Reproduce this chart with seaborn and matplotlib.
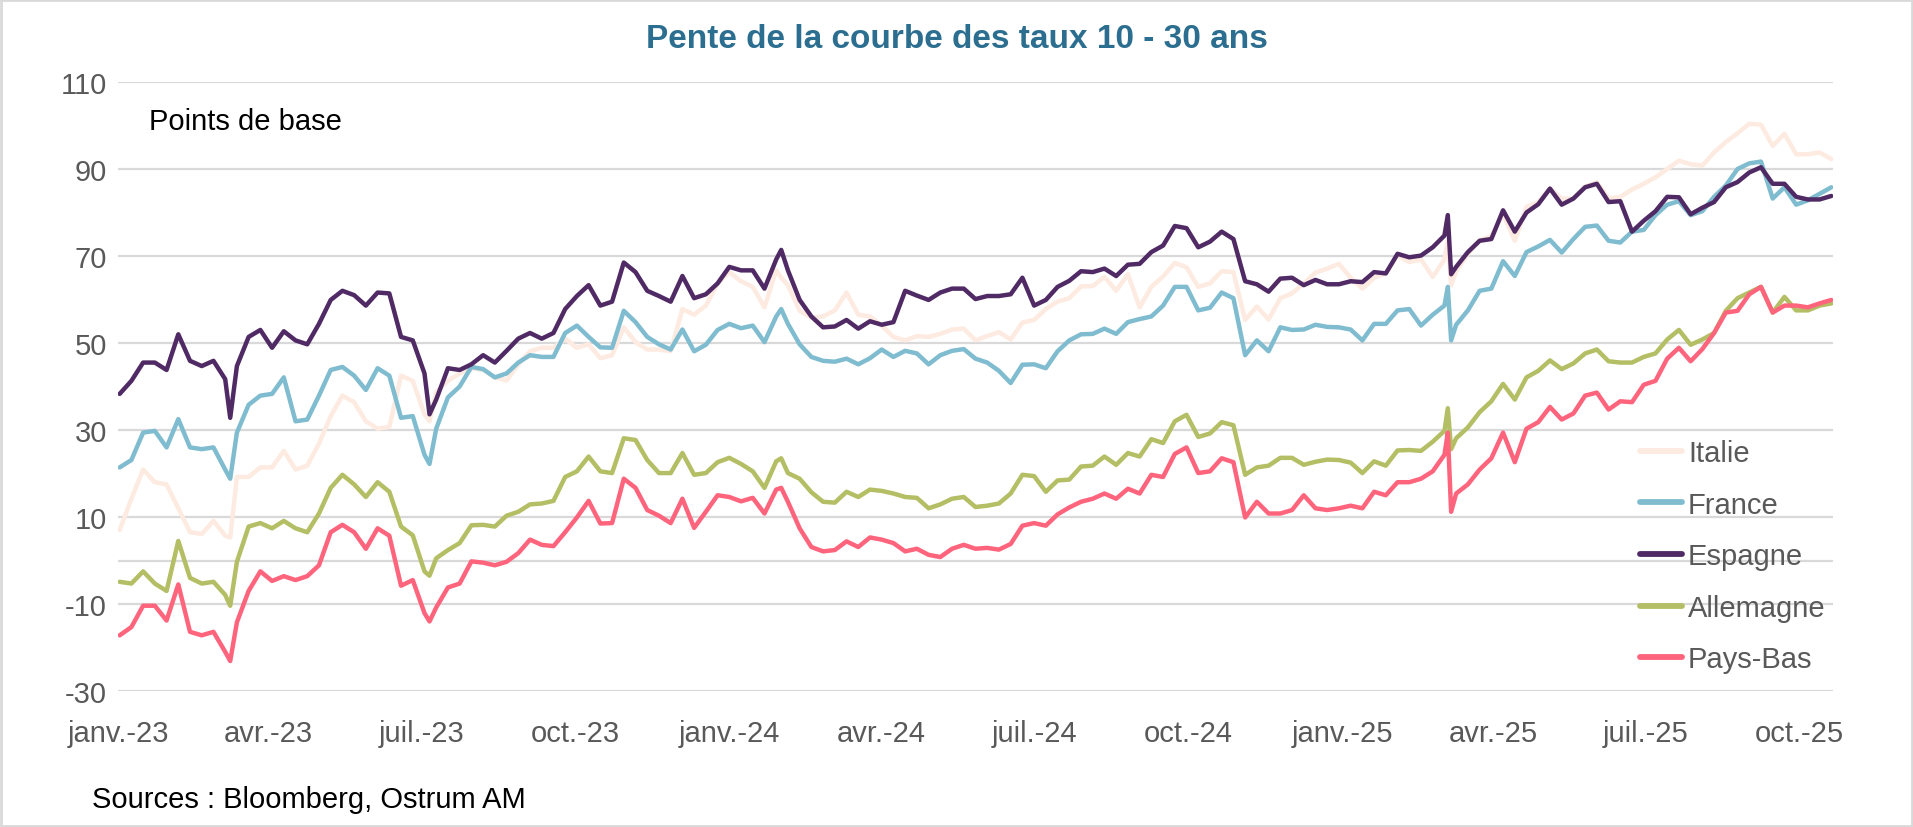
import matplotlib
matplotlib.use("Agg")
import pandas as pd
import matplotlib.pyplot as plt
import seaborn as sns

# Pente 10 - 30 ans (points de base), releve hebdomadaire + quelques jours de choc
weeks = pd.date_range("2023-01-02", periods=147, freq="7D")
extra_dates = pd.to_datetime(["2023-03-09", "2023-07-06", "2024-02-01", "2025-03-05", "2025-03-07"])

italie = [
    7.0, 14.2, 20.9, 18.0, 17.5, 12.0, 6.5, 6.1, 9.1, 5.7,
    19.2, 19.2, 21.4, 21.4, 25.2, 20.9, 21.8, 26.9, 33.2, 37.9,
    36.4, 32.0, 30.3, 30.7, 42.5, 41.3, 33.6, 38.7, 41.3, 43.0,
    44.2, 43.8, 42.1, 41.4, 45.1, 48.1, 48.9, 48.9, 51.0, 48.9,
    49.7, 46.5, 47.2, 53.6, 50.2, 48.5, 48.5, 48.1, 57.8, 56.5,
    58.6, 63.7, 66.3, 64.2, 62.9, 58.2, 66.7, 63.3, 57.4, 55.8,
    56.1, 57.5, 61.6, 56.5, 56.1, 54.0, 51.4, 50.6, 51.6, 51.4,
    52.1, 53.1, 53.3, 50.6, 51.6, 52.5, 50.8, 54.7, 55.3, 57.8,
    59.5, 60.3, 63.0, 63.1, 65.2, 62.0, 65.8, 58.2, 62.9, 65.3,
    68.4, 67.4, 62.9, 63.7, 66.5, 66.3, 55.3, 58.4, 55.4, 60.3,
    61.4, 63.7, 66.2, 67.1, 68.2, 65.0, 62.5, 65.0, 66.0, 70.1,
    68.6, 69.2, 65.2, 69.2, 66.5, 70.5, 73.6, 74.5, 79.6, 73.5,
    81.3, 82.4, 85.5, 83.2, 83.2, 86.0, 86.9, 83.2, 83.6, 85.3,
    86.6, 88.1, 90.0, 91.9, 91.1, 90.8, 93.8, 96.2, 98.2, 100.4,
    100.2, 95.3, 98.1, 93.4, 93.4, 93.8, 92.3,
]
france = [
    21.4, 23.1, 29.4, 29.8, 26.0, 32.5, 26.0, 25.6, 26.0, 20.9,
    29.4, 35.8, 37.9, 38.3, 42.1, 32.0, 32.4, 37.9, 43.8, 44.5,
    42.5, 39.2, 44.2, 42.5, 32.8, 33.2, 24.3, 30.3, 37.5, 40.0,
    44.5, 44.0, 42.1, 43.0, 45.5, 47.2, 46.8, 46.8, 52.3, 54.0,
    51.4, 49.0, 48.9, 57.4, 54.8, 51.4, 49.7, 48.5, 53.1, 48.1,
    49.6, 53.0, 54.4, 53.4, 54.0, 50.2, 56.1, 54.4, 49.7, 46.8,
    45.9, 45.7, 46.4, 45.1, 46.5, 48.5, 46.8, 48.2, 47.6, 45.1,
    47.2, 48.2, 48.6, 46.4, 45.5, 43.6, 40.8, 45.0, 45.1, 44.2,
    48.1, 50.6, 52.0, 52.1, 53.3, 52.1, 54.8, 55.5, 56.1, 58.6,
    62.9, 62.9, 57.5, 58.1, 61.6, 60.3, 47.2, 50.6, 48.1, 53.6,
    53.0, 53.1, 54.2, 53.7, 53.6, 53.1, 50.6, 54.4, 54.4, 57.5,
    57.8, 54.0, 56.5, 58.6, 54.2, 57.5, 62.0, 62.5, 68.8, 65.4,
    70.9, 72.2, 73.7, 70.8, 73.9, 76.7, 77.0, 73.5, 73.1, 75.6,
    76.0, 79.4, 81.8, 82.6, 79.4, 80.3, 83.6, 86.2, 90.0, 91.3,
    91.7, 83.2, 85.8, 81.8, 82.8, 84.3, 85.8,
]
espagne = [
    38.3, 41.3, 45.5, 45.5, 43.8, 52.0, 45.9, 44.7, 45.9, 41.7,
    44.7, 51.4, 53.0, 48.9, 52.7, 50.6, 49.7, 54.4, 59.9, 62.0,
    61.0, 58.6, 61.6, 61.4, 51.4, 50.6, 43.0, 37.0, 44.2, 43.8,
    45.1, 47.2, 45.5, 48.2, 51.0, 52.3, 51.0, 52.3, 57.8, 60.8,
    63.3, 58.6, 59.5, 68.5, 66.3, 62.0, 60.8, 59.5, 65.4, 60.3,
    61.2, 63.7, 67.5, 66.7, 66.7, 62.5, 69.2, 66.7, 59.9, 56.1,
    53.6, 53.8, 55.3, 53.3, 55.0, 54.2, 54.8, 62.0, 60.9, 59.9,
    61.6, 62.5, 62.5, 60.1, 60.8, 60.8, 61.2, 65.0, 58.6, 59.9,
    62.9, 64.3, 66.5, 66.3, 67.1, 65.4, 68.0, 68.2, 70.9, 72.4,
    76.9, 76.4, 72.0, 73.3, 75.6, 73.9, 64.2, 63.5, 61.8, 64.8,
    65.0, 63.3, 64.5, 63.5, 63.5, 64.2, 64.0, 66.3, 66.0, 70.5,
    69.7, 70.1, 72.0, 74.7, 67.5, 70.9, 73.5, 73.9, 80.5, 75.6,
    80.0, 81.9, 85.5, 81.8, 83.2, 85.8, 86.6, 82.4, 82.6, 75.6,
    78.1, 80.3, 83.6, 83.5, 79.6, 81.1, 82.4, 85.8, 87.0, 89.2,
    90.4, 86.6, 86.6, 83.6, 83.0, 83.0, 83.8,
]
allemagne = [
    -4.9, -5.3, -2.5, -5.3, -7.0, 4.5, -4.0, -5.3, -4.9, -7.9,
    -0.3, 7.8, 8.6, 7.4, 9.1, 7.4, 6.5, 10.8, 16.7, 19.7,
    17.5, 14.6, 18.0, 15.8, 7.8, 5.8, -2.5, 0.5, 2.4, 4.0,
    8.1, 8.2, 7.8, 10.3, 11.2, 12.9, 13.1, 13.7, 19.2, 20.5,
    23.9, 20.5, 20.1, 28.1, 27.7, 23.1, 20.1, 20.1, 24.7, 19.7,
    20.1, 22.6, 23.6, 22.2, 20.5, 16.7, 22.8, 20.1, 18.8, 15.7,
    13.5, 13.3, 15.8, 14.6, 16.3, 16.0, 15.4, 14.6, 14.4, 12.0,
    12.9, 14.2, 14.6, 12.3, 12.6, 13.1, 15.4, 19.7, 19.4, 15.8,
    18.4, 18.6, 21.6, 21.8, 23.9, 22.0, 24.7, 23.9, 27.9, 27.0,
    32.0, 33.5, 28.4, 29.2, 31.8, 31.1, 19.7, 21.4, 21.8, 23.6,
    23.6, 22.0, 22.7, 23.2, 23.1, 22.5, 20.1, 22.8, 21.8, 25.3,
    25.4, 25.2, 27.3, 29.8, 28.1, 30.6, 34.1, 36.6, 40.6, 37.0,
    42.1, 43.6, 46.0, 44.0, 45.3, 47.6, 48.5, 45.8, 45.5, 45.5,
    46.8, 47.6, 50.8, 53.0, 49.6, 50.8, 52.3, 57.4, 60.3, 61.6,
    62.9, 57.0, 60.6, 57.5, 57.5, 58.6, 59.1,
]
pays_bas = [
    -17.2, -15.3, -10.4, -10.4, -13.8, -5.5, -16.4, -17.2, -16.4, -21.0,
    -14.2, -7.0, -2.5, -4.7, -3.6, -4.5, -3.6, -1.1, 6.5, 8.2,
    6.5, 2.7, 7.4, 5.7, -5.8, -4.5, -12.1, -10.8, -6.2, -5.3,
    -0.2, -0.5, -1.1, -0.3, 1.7, 4.8, 3.6, 3.3, 6.5, 9.9,
    13.7, 8.5, 8.6, 18.8, 16.7, 11.6, 10.3, 8.6, 14.2, 7.5,
    11.2, 15.0, 14.6, 13.6, 14.4, 10.8, 16.3, 13.5, 7.4, 3.1,
    2.1, 2.4, 4.4, 3.1, 5.3, 4.8, 4.0, 2.1, 2.7, 1.3,
    0.8, 2.7, 3.6, 2.7, 2.9, 2.5, 3.8, 8.0, 8.6, 8.0,
    10.6, 12.2, 13.5, 14.2, 15.4, 14.2, 16.5, 15.4, 19.7, 19.2,
    24.5, 26.0, 20.1, 20.5, 23.5, 22.6, 9.9, 13.5, 10.8, 10.8,
    11.6, 15.0, 12.0, 11.6, 12.0, 12.6, 12.0, 15.8, 15.0, 18.0,
    18.0, 18.8, 20.5, 24.3, 15.4, 17.5, 20.9, 23.5, 29.4, 22.6,
    30.3, 31.8, 35.3, 32.4, 33.8, 37.9, 38.6, 34.7, 36.6, 36.4,
    40.4, 41.3, 46.4, 48.9, 45.8, 48.6, 52.3, 57.0, 57.4, 61.2,
    62.9, 57.0, 58.6, 58.6, 58.2, 59.1, 59.9,
]

italie_extra = [5.3, 32.0, 65.0, 73.5, 63.3]
france_extra = [18.8, 22.2, 57.8, 62.9, 50.6]
espagne_extra = [32.8, 33.6, 71.4, 79.4, 65.8]
allemagne_extra = [-10.4, -3.5, 23.5, 35.0, 25.6]
pays_bas_extra = [-23.1, -14.0, 16.7, 29.4, 11.2]

countries = ["Italie", "France", "Espagne", "Allemagne", "Pays-Bas"]
colors = ["#FDEAE0", "#80BCD0", "#502A64", "#B4BE64", "#FF647D"]

quarter_ticks = pd.date_range("2023-01-01", "2025-10-01", freq="QS")
quarter_labels = ["janv.-23", "avr.-23", "juil.-23", "oct.-23",
                  "janv.-24", "avr.-24", "juil.-24", "oct.-24",
                  "janv.-25", "avr.-25", "juil.-25", "oct.-25"]

series = [(italie, italie_extra), (france, france_extra), (espagne, espagne_extra),
          (allemagne, allemagne_extra), (pays_bas, pays_bas_extra)]
frames = []
for name, (weekly, extra) in zip(countries, series):
    frames.append(pd.DataFrame({
        "date": list(weeks) + list(extra_dates),
        "pb": weekly + extra,
        "pays": name,
    }))
df = pd.concat(frames).sort_values(["pays", "date"]).reset_index(drop=True)

sns.set_style("white")
plt.rcParams["font.family"] = ["Liberation Sans", "DejaVu Sans"]
plt.rcParams["axes.unicode_minus"] = False

W, H = 1913, 828
fig = plt.figure(figsize=(W / 100, H / 100), dpi=100)
ax = fig.add_axes([118 / W, 136 / H, (1833 - 118) / W, (692 - 83) / H])

sns.lineplot(data=df, x="date", y="pb", hue="pays", hue_order=countries,
             palette=colors, linewidth=3.2, estimator=None, ax=ax)

ax.set_ylim(-30, 110)
ax.set_yticks(range(-30, 111, 20))
ax.set_xlim(pd.Timestamp("2023-01-01"), pd.Timestamp("2025-10-21"))
ax.set_xticks(quarter_ticks)
ax.set_xticklabels(quarter_labels)
ax.set_xlabel("")
ax.set_ylabel("")
ax.yaxis.grid(True, color="#D9D9D9", linewidth=1.6)
ax.xaxis.grid(False)
ax.axhline(0, color="#D9D9D9", linewidth=1.6, zorder=0.5)
ax.set_axisbelow(True)
for sp in ax.spines.values():
    sp.set_visible(False)
ax.tick_params(axis="both", length=0, labelsize=21, labelcolor="#595959")
ax.tick_params(axis="x", pad=20)
ax.tick_params(axis="y", pad=8)

handles, labels = ax.get_legend_handles_labels()
leg = ax.legend(handles, labels, loc="upper left", bbox_to_anchor=(1640 / W, 1 - 440 / H),
                bbox_transform=fig.transFigure, frameon=False, fontsize=21,
                handlelength=1.45, handletextpad=0.2, labelspacing=0.81,
                borderpad=0, borderaxespad=0)
for line in leg.get_lines():
    line.set_linewidth(4.2)
for txt in leg.get_texts():
    txt.set_color("#595959")

fig.text(0.5, 1 - 40 / H, "Pente de la courbe des taux 10 - 30 ans", ha="center", va="center",
         fontsize=24, fontweight="bold", color="#2C6E8F")
fig.text(149 / W, 1 - 122 / H, "Points de base", ha="left", va="center", fontsize=21, color="black")
fig.text(92 / W, 1 - 800 / H, "Sources : Bloomberg, Ostrum AM", ha="left", va="center",
         fontsize=21, color="black")

fig.patches.append(plt.Rectangle((0.0005, 0.001), 0.999, 0.998, transform=fig.transFigure,
                                 fill=False, edgecolor="#D9D9D9", linewidth=2))

fig.savefig("out.png", dpi=100)
